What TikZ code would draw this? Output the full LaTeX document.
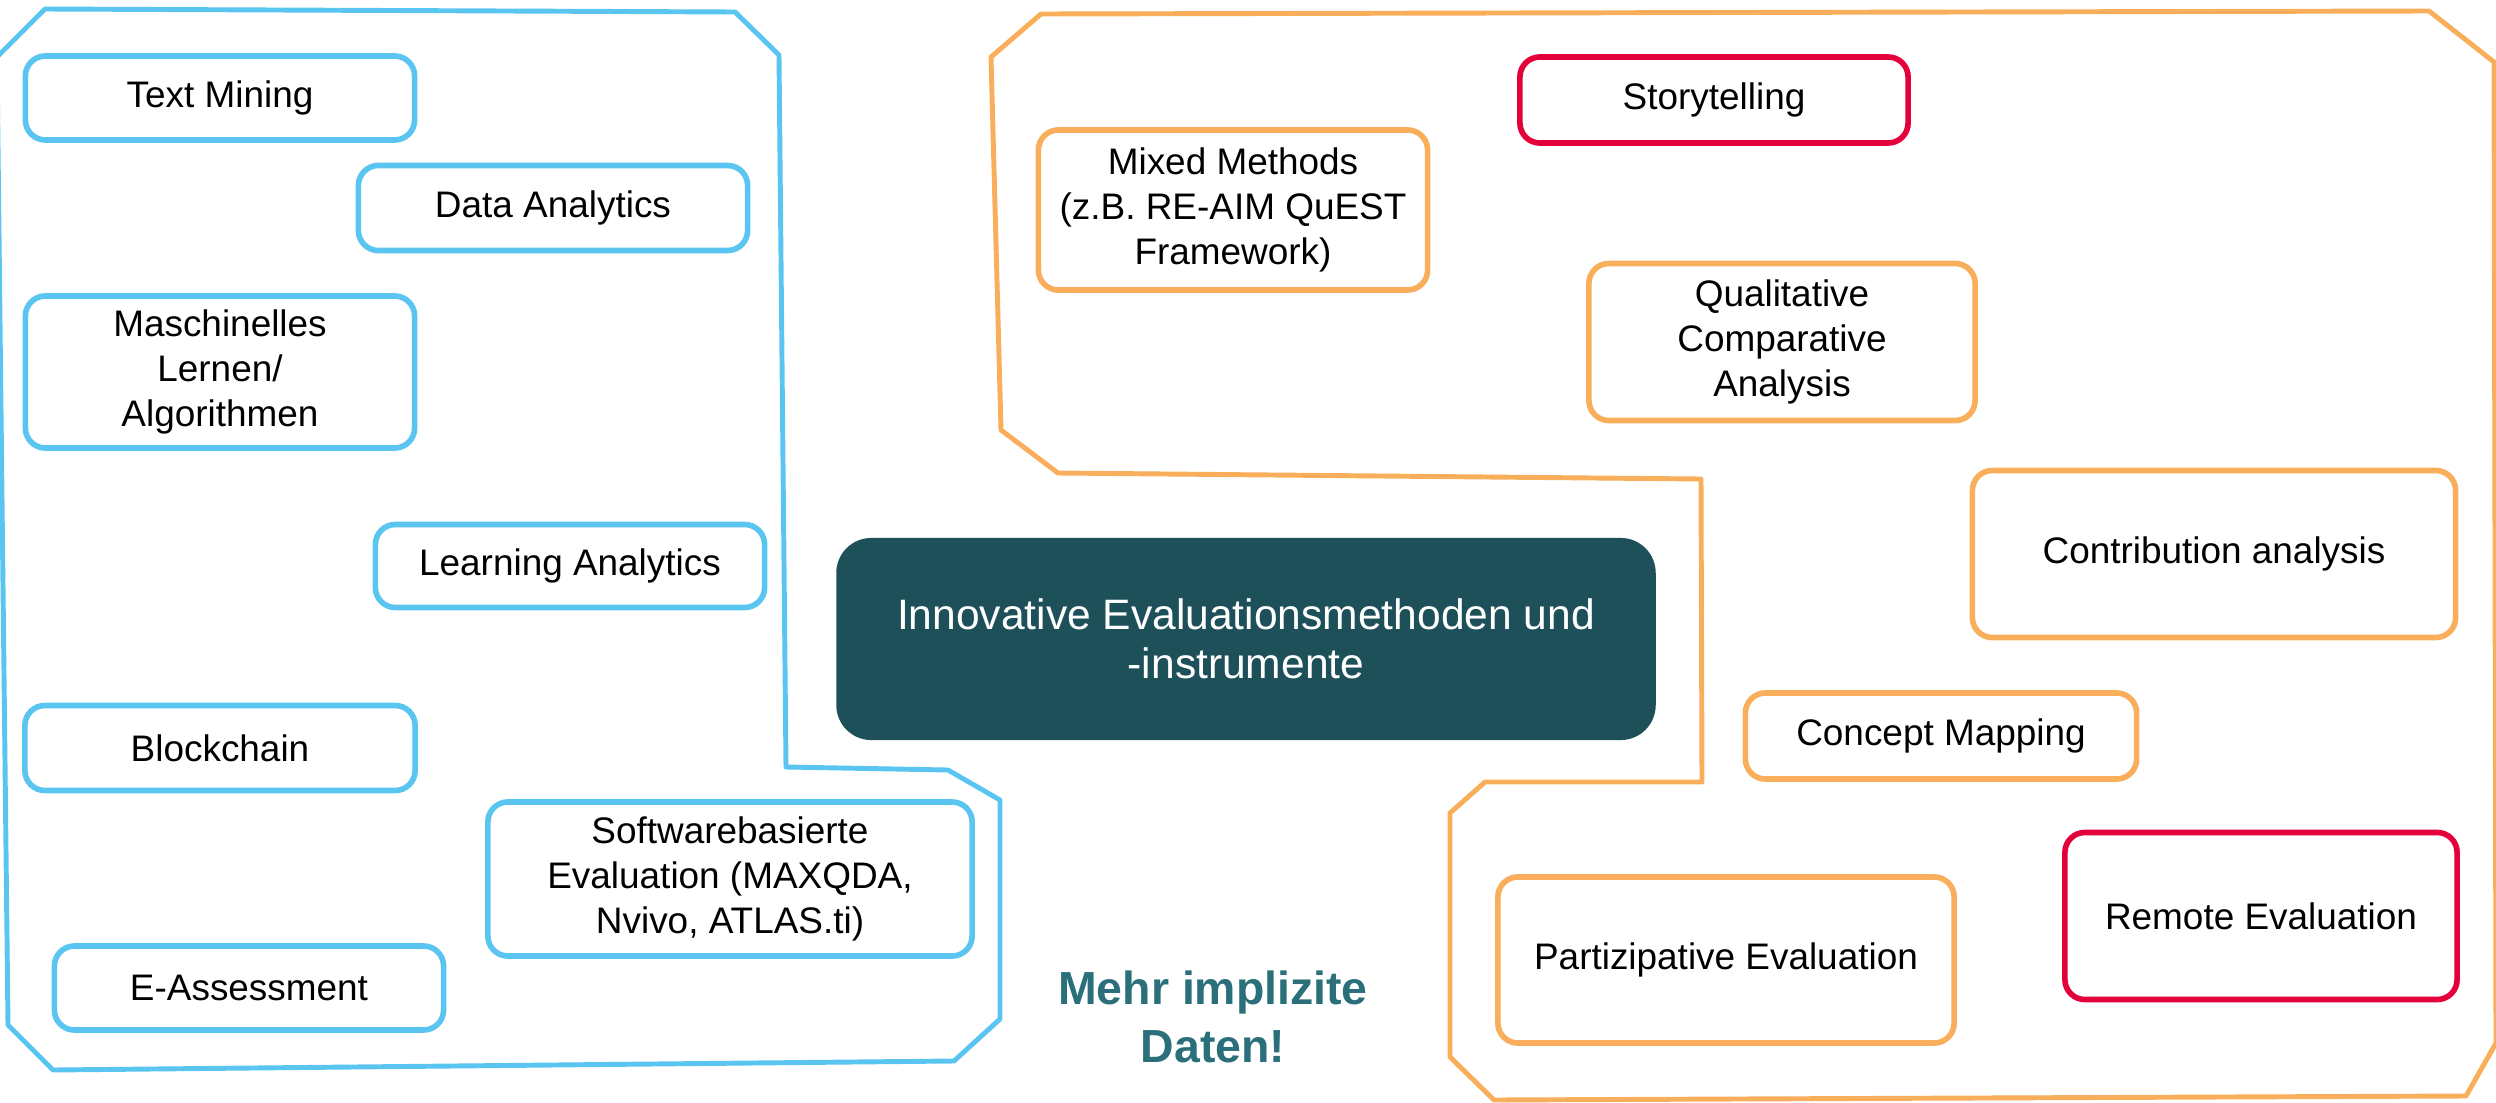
\documentclass[tikz,border=0pt]{standalone}
\usepackage{fontspec}
\setmainfont{Liberation Sans}
\definecolor{skyblue}{HTML}{5BC5F2}
\definecolor{apricot}{HTML}{F8AE5B}
\definecolor{crimson}{HTML}{E4003B}
\definecolor{petrol}{HTML}{1E505A}
\definecolor{petrollight}{HTML}{2A6F7A}
\tikzset{
    %Define style for boxes
    methodbox/.style={
             rectangle, rounded corners=0.2cm,
             draw, line width=1.6pt, fill=white,
             align=center, inner sep=0pt,
             font=\fontsize{10.5}{12.7}\selectfont},
    bluebox/.style={methodbox, draw=skyblue},
    orangebox/.style={methodbox, draw=apricot},
    redbox/.style={methodbox, draw=crimson},
    centrebox/.style={
             rectangle, rounded corners=0.35cm,
             fill=petrol, text=white,
             align=center, inner sep=0pt,
             font=\fontsize{12.1}{13.9}\selectfont},
    % Define style for the outlines
    bluefield/.style={
            draw=skyblue, line width=1.4pt, line join=round},
    orangefield/.style={
            draw=apricot, line width=1.4pt, line join=round}
}

\begin{document}
\begin{tikzpicture}[x=0.01cm, y=-0.01cm]
 \useasboundingbox (0,0) rectangle (2496,1103);
 % outlines
 \draw[bluefield] (45,9) -- (735,12) -- (779,55) -- (786,767) -- (948,770)
       -- (1000,800) -- (1000,1019) -- (954,1061) -- (53,1070) -- (8,1025)
       -- (-3,57) -- cycle;
 \draw[orangefield] (1041,14) -- (2429,11) -- (2494,62) -- (2496,1043)
       -- (2466,1096) -- (1494,1100) -- (1450,1057) -- (1450,813) -- (1485,782)
       -- (1702,782) -- (1701,479) -- (1058,473) -- (1001,430) -- (991,57) -- cycle;
 % left group
 \node[bluebox, minimum width=3.89cm, minimum height=0.84cm] (textmining) at (220,98) {Text Mining};
 \node[bluebox, minimum width=3.89cm, minimum height=0.85cm] (dataanalytics) at (553,208) {Data Analytics};
 \node[bluebox, minimum width=3.89cm, minimum height=1.52cm] (mlearning) at (220,372) {Maschinelles\\Lernen/\\Algorithmen};
 \node[bluebox, minimum width=3.89cm, minimum height=0.83cm] (learninganalytics) at (570,566) {Learning Analytics};
 \node[bluebox, minimum width=3.90cm, minimum height=0.85cm] (blockchain) at (220,748) {Blockchain};
 \node[bluebox, minimum width=4.84cm, minimum height=1.54cm] (software) at (730,879) {Softwarebasierte\\Evaluation (MAXQDA,\\Nvivo, ATLAS.ti)};
 \node[bluebox, minimum width=3.89cm, minimum height=0.84cm] (eassessment) at (249,988) {E-Assessment};
 % right group
 \node[redbox, minimum width=3.88cm, minimum height=0.86cm] (storytelling) at (1714,100) {Storytelling};
 \node[orangebox, minimum width=3.89cm, minimum height=1.60cm] (mixedmethods) at (1233,210) {Mixed Methods\\(z.B. RE-AIM QuEST\\Framework)};
 \node[orangebox, minimum width=3.86cm, minimum height=1.57cm] (qca) at (1782,342) {Qualitative\\Comparative\\Analysis};
 \node[orangebox, minimum width=4.83cm, minimum height=1.67cm] (contribution) at (2214,554) {Contribution analysis};
 \node[orangebox, minimum width=3.91cm, minimum height=0.86cm] (conceptmapping) at (1941,736) {Concept Mapping};
 \node[redbox, minimum width=3.92cm, minimum height=1.67cm] (remote) at (2261,916) {Remote Evaluation};
 \node[orangebox, minimum width=4.56cm, minimum height=1.66cm] (participative) at (1726,960) {Partizipative Evaluation};
 % centre
 \node[centrebox, minimum width=8.19cm, minimum height=2.02cm] (innovative) at (1246,639) {Innovative Evaluationsmethoden und\\-instrumente};
 \node[align=center, text=petrollight, inner sep=0pt,
       font=\fontsize{13.2}{16.5}\selectfont\bfseries] (implicit) at (1213,1017) {Mehr implizite\\Daten!};
\end{tikzpicture}
\end{document}
